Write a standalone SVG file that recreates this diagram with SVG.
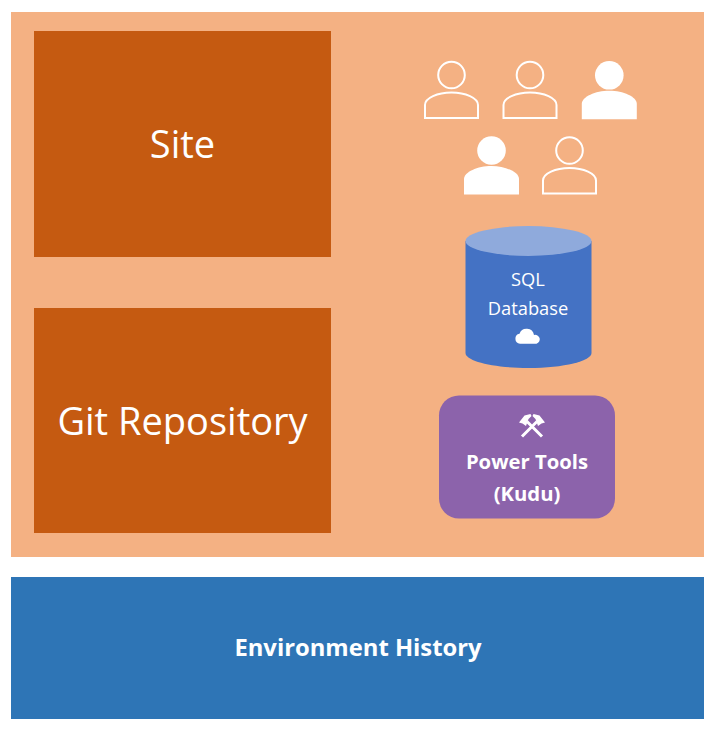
<svg xmlns="http://www.w3.org/2000/svg" width="716" height="731" viewBox="0 0 716 731">
<style>
text{font-family:"Open Sans","Noto Sans","Liberation Sans",sans-serif;fill:#fff;text-anchor:middle}
.big{font-size:38px}
.med{font-size:18.300px}
.bold{font-size:20.300px;font-weight:700}
.site{fill:#c55a11}
.oc{fill:none;stroke:#fff;stroke-width:2}
.fc{fill:#fff;stroke:none}
</style>
<defs>
<g id="userOutline" class="oc"><circle cx="0" cy="0" r="13.300"/><path d="M-26.500 43V30C-26.500 23-14 17.500 0 17.500S26.500 23 26.500 30V43Z"/></g>
<g id="userFilled" class="fc"><circle cx="0" cy="0" r="14.300"/><path d="M-27.500 44V28.500C-27.500 21.500-14 15.500 0 15.500S27.500 21.500 27.500 28.500V44Z"/></g>
</defs>
<rect width="716" height="731" fill="#fff"/>
<g id="environment"><rect x="11" y="12" width="693" height="545" fill="#f4b183"/></g>
<g id="site"><rect class="site" x="34" y="31" width="297" height="226"/><text class="big" x="182.500" y="158">Site</text></g>
<g id="git"><rect class="site" x="34" y="308" width="297" height="225"/><text class="big" x="182.500" y="435">Git Repository</text></g>
<g id="users">
<use href="#userOutline" x="451.500" y="75"/>
<use href="#userOutline" x="530" y="75"/>
<use href="#userFilled" x="609.300" y="75.300"/>
<use href="#userFilled" x="491.500" y="150.500"/>
<use href="#userOutline" x="569.500" y="150.500"/>
</g>
<g id="database">
<path d="M465.500 241V353C465.500 361 493 368 528.500 368S591.500 361 591.500 353V241Z" fill="#4472c4"/>
<ellipse cx="528.500" cy="241" rx="63" ry="15" fill="#8faadc"/>
<text class="med" x="528" y="286">SQL</text>
<text class="med" x="528" y="315">Database</text>
<path class="fc" d="M520 343.700A5 5 0 0 1 519.500 333.800A7.500 7.500 0 0 1 534 335A4.400 4.400 0 0 1 536.500 343.700Z"/>
</g>
<g id="kudu">
<rect x="439" y="395.500" width="176" height="123" rx="20" fill="#8c63ab"/>
<path d="M542 436.500L527 421.500M522 436.500L537 421.500" stroke="#fff" stroke-width="3" fill="none"/>
<path class="fc" d="M519 422.500L524.500 415.500L530.500 414L531.500 416L528.500 419L526 426L522.500 423.500ZM545 422.500L539.500 415.500L533.500 414L532.500 416L535.500 419L538 426L541.500 423.500Z"/>
<text class="bold" x="527" y="469">Power Tools</text>
<text class="bold" x="527" y="500.500">(Kudu)</text>
</g>
<g id="history"><rect x="11" y="577" width="693" height="142" fill="#2e75b6"/><text x="358" y="656" font-size="23.800" font-weight="700">Environment History</text></g>
<g id="connectors"/>
</svg>
